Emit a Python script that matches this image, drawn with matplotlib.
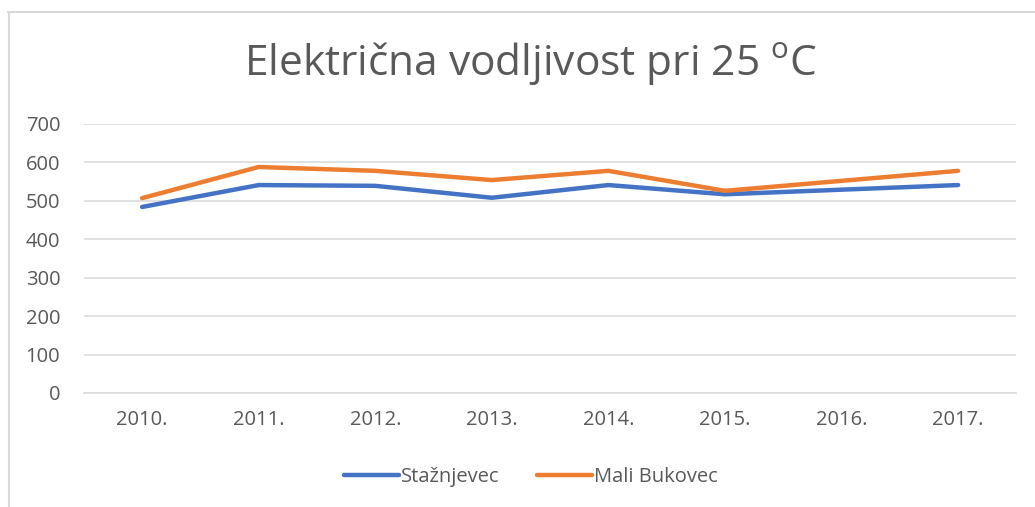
import matplotlib.pyplot as plt
from matplotlib.lines import Line2D

plt.rcParams['font.family'] = ['Open Sans', 'DejaVu Sans']
plt.rcParams['mathtext.fontset'] = 'custom'
plt.rcParams['mathtext.rm'] = 'Open Sans'

years = ['2010.', '2011.', '2012.', '2013.', '2014.', '2015.', '2016.', '2017.']
staznjevec = [484, 541, 539, 508, 541, 517, 529, 541]
mali_bukovec = [507, 588, 578, 554, 578, 526, 552, 578]

fig = plt.figure(figsize=(10.35, 5.07), dpi=100)
ax = fig.add_axes([0.081, 0.2249, 0.901, 0.5306])

x = range(len(years))
ax.plot(x, staznjevec, color='#4472C4', linewidth=3.2, solid_capstyle='round',
        solid_joinstyle='round', label='Stažnjevec')
ax.plot(x, mali_bukovec, color='#ED7D31', linewidth=3.2, solid_capstyle='round',
        solid_joinstyle='round', label='Mali Bukovec')

ax.set_xlim(-0.5, len(years) - 0.5)
ax.set_ylim(0, 700)
ax.set_yticks(range(0, 701, 100))
ax.set_xticks(list(x))
ax.set_xticklabels(years)
ax.grid(axis='y', color='#d9d9d9', linewidth=1.1)
ax.set_axisbelow(True)
for s in ['top', 'right', 'left']:
    ax.spines[s].set_visible(False)
ax.spines['bottom'].set_color('#d9d9d9')
ax.spines['bottom'].set_linewidth(1.1)
ax.tick_params(length=0, labelsize=14.5, labelcolor='#595959')
ax.tick_params(axis='x', pad=12)
ax.tick_params(axis='y', pad=17)

fig.text(0.513, 0.875, r'Električna vodljivost pri 25 $^{\mathrm{o}}$C',
         ha='center', va='center', fontsize=30.5, color='#595959')

handles = [Line2D([], [], color='#4472C4', linewidth=3.2, solid_capstyle='round'),
           Line2D([], [], color='#ED7D31', linewidth=3.2, solid_capstyle='round')]
fig.legend(handles, ['Stažnjevec', 'Mali Bukovec'], loc='center', bbox_to_anchor=(0.513, 0.06),
           ncol=2, frameon=False, fontsize=14.5, labelcolor='#595959',
           handlelength=2.7, handletextpad=0.1, columnspacing=1.9)

# chart border (top and left edges visible)
fig.add_artist(Line2D([8 / 1035, 1], [1 - 12 / 507, 1 - 12 / 507], color='#d9d9d9', linewidth=1.5,
                      transform=fig.transFigure))
fig.add_artist(Line2D([9 / 1035, 9 / 1035], [0, 1 - 12 / 507], color='#d9d9d9', linewidth=1.5,
                      transform=fig.transFigure))

fig.savefig('out.png', dpi=100)
